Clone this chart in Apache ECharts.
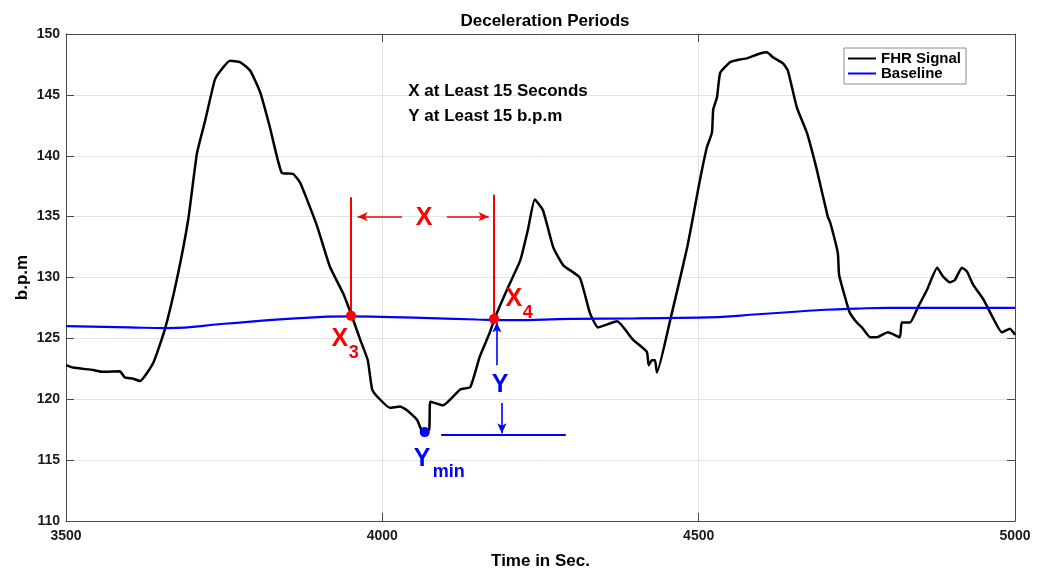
<!DOCTYPE html>
<html>
<head>
<meta charset="utf-8">
<title>Deceleration Periods</title>
<script src="https://cdn.jsdelivr.net/npm/echarts@6/dist/echarts.min.js"></script>
<style>
  html, body { margin: 0; padding: 0; background: #fff; }
  #chart { width: 1047px; height: 569px; }
</style>
</head>
<body>
<div id="chart"></div>
<script>
// Fetal heart rate trace (seconds, beats per minute)
const timeSec = [3500,3511,3543,3558,3585,3593,3605,3617,3638,3656,3675,3693,3707,3720,3735,3743,3759,3775,3791,3807,3822,3841,3859,3870,3881,3897,3917,3938,3952,3965,3977,3984,3996,4012,4028,4039,4055,4064,4074,4076,4096,4123,4139,4154,4170,4178,4197,4218,4230,4241,4254,4270,4286,4312,4328,4341,4371,4396,4418,4421,4426,4431,4434,4455,4482,4502,4513,4521,4523,4529,4534,4550,4565,4576,4597,4608,4617,4633,4641,4655,4671,4687,4704,4708,4720,4722,4734,4739,4750,4758,4771,4782,4799,4818,4821,4834,4847,4861,4877,4886,4897,4905,4916,4924,4934,4950,4965,4979,4992,5000];
const fhrBpm  = [122.8,122.6,122.4,122.25,122.3,121.8,121.7,121.5,123.0,125.7,129.8,134.7,140.2,142.9,146.2,146.9,147.8,147.7,147.0,145.2,142.4,138.6,138.5,137.8,136.4,134.2,130.9,128.7,126.8,124.9,123.2,120.8,120.0,119.3,119.4,119.1,118.3,117.3,117.5,119.8,119.5,120.8,121.0,123.5,125.5,126.7,129.0,131.4,133.9,136.4,135.5,132.5,131.0,130.0,127.1,125.9,126.4,124.9,123.9,122.8,123.2,123.2,122.2,126.5,132.5,138.0,140.7,141.9,143.8,144.8,146.8,147.7,147.9,148.0,148.4,148.5,148.1,147.6,147.0,144.0,141.9,138.8,135.0,134.5,132.0,130.2,127.9,127.1,126.3,125.9,125.1,125.1,125.5,125.1,126.3,126.3,127.6,129.0,130.8,130.1,129.6,129.8,130.8,130.5,129.4,128.2,126.7,125.5,125.8,125.3];

// Estimated baseline
const baseTime = [3500,3600,3660,3750,3850,3950,4050,4150,4200,4300,4400,4500,4600,4700,4750,4800,5000];
const baseBpm  = [126.0,125.9,125.85,126.2,126.6,126.8,126.7,126.55,126.5,126.6,126.65,126.7,127.0,127.35,127.45,127.5,127.5];

// Axis ticks
const xTicks = [3500, 4000, 4500, 5000];
const yTicks = [110, 115, 120, 125, 130, 135, 140, 145, 150];

// Deceleration markers: crossing points and minimum
const crossX3 = [3950.5, 126.85];
const crossX4 = [4176.5, 126.6];
const minPoint = [4067, 117.3];

// Marker guide lines [x1, y1, x2, y2]
const redVerticals = [[3950.5, 136.6, 3950.5, 126.85], [4176.5, 136.8, 4176.5, 126.6]];
const redArrows = [[4031, 135.0, 3961, 135.0], [4102, 135.0, 4168, 135.0]];
const blueArrows = [[4181, 122.8, 4181, 126.3], [4189, 119.7, 4189, 117.2]];
const minLine = [4093, 117.06, 4290, 117.06];

// Annotation texts [x, y, text]
const redTexts = [[4066, 134.9, 'X'], [3933, 124.95, 'X'], [4208, 128.2, 'X']];
const redSubs = [[3955, 123.8, '3'], [4230, 127.1, '4']];
const blueTexts = [[4186, 121.2, 'Y'], [4063, 115.1, 'Y']];
const blueSubs = [[4105, 114.0, 'min']];
const noteLines = [[4041, 145.3, 'X at Least 15 Seconds'], [4041, 143.25, 'Y at Least 15 b.p.m']];

const FONT = '"Liberation Sans", Arial, Helvetica, sans-serif';
const RED = '#ff0000';
const BLUE = '#0000ff';
const AXIS = '#4a4a4a';

const chart = echarts.init(document.getElementById('chart'), null, { renderer: 'canvas' });

function zip(xs, ys) { return xs.map((x, i) => [x, ys[i]]); }

function segs(list, color, width, arrow) {
  return list.map(s => [
    { coord: [s[0], s[1]], symbol: 'none', lineStyle: { color: color, width: width, type: 'solid', opacity: 1 } },
    { coord: [s[2], s[3]], symbol: arrow ? 'arrow' : 'none', symbolSize: arrow ? [7, 10] : 0 }
  ]);
}

function textSeries(list, color, size) {
  return {
    type: 'scatter', symbolSize: 0, silent: true, z: 10,
    itemStyle: { opacity: 1 },
    data: list.map(d => ({ value: [d[0], d[1]], name: d[2] })),
    label: {
      show: true, position: 'inside', formatter: p => p.name,
      color: color, fontSize: size, fontWeight: 'bold', fontFamily: FONT
    }
  };
}

const option = {
  animation: false,
  backgroundColor: '#ffffff',
  title: {
    text: 'Deceleration Periods',
    left: 540, top: 8, textAlign: 'center',
    textStyle: { fontFamily: FONT, fontSize: 17, fontWeight: 'bold', color: '#000' }
  },
  legend: {
    data: ['FHR Signal', 'Baseline'],
    orient: 'vertical',
    left: 844, top: 48,
    padding: [3, 5, 3, 4],
    itemGap: 0,
    itemWidth: 28, itemHeight: 2,
    icon: 'rect',
    borderColor: '#8a8a8a', borderWidth: 1,
    backgroundColor: '#fff',
    textStyle: { fontFamily: FONT, fontSize: 15, fontWeight: 'bold', color: '#000', lineHeight: 13 }
  },
  grid: { left: 66, right: 32, top: 34, bottom: 48, containLabel: false, outerBoundsMode: 'none' },
  xAxis: [{
    type: 'value', min: 3500, max: 5000, interval: 500,
    name: 'Time in Sec.', nameLocation: 'middle', nameGap: 32,
    nameTextStyle: { fontFamily: FONT, fontSize: 17, fontWeight: 'bold', color: '#000' },
    axisLine: { show: true, onZero: false, lineStyle: { color: AXIS, width: 1 } },
    axisTick: { show: true, inside: true, length: 8, lineStyle: { color: AXIS } },
    axisLabel: {
      margin: 8, fontFamily: FONT, fontSize: 14, fontWeight: 'bold', color: '#1a1a1a',
      formatter: v => xTicks.includes(v) ? String(v) : ''
    },
    splitLine: { show: true, lineStyle: { color: '#e3e3e3', width: 1 } }
  }, {
    type: 'value', min: 3500, max: 5000, interval: 500, position: 'top',
    axisLine: { show: true, onZero: false, lineStyle: { color: AXIS, width: 1 } },
    axisTick: { show: true, inside: true, length: 8, lineStyle: { color: AXIS } },
    axisLabel: { show: false }, splitLine: { show: false }
  }],
  yAxis: [{
    type: 'value', min: 110, max: 150, interval: 5,
    name: 'b.p.m', nameLocation: 'middle', nameGap: 35, nameRotate: 90, nameMoveOverlap: false,
    nameTextStyle: { fontFamily: FONT, fontSize: 17, fontWeight: 'bold', color: '#000' },
    axisLine: { show: true, onZero: false, lineStyle: { color: AXIS, width: 1 } },
    axisTick: { show: true, inside: true, length: 8, lineStyle: { color: AXIS } },
    axisLabel: {
      margin: 6, fontFamily: FONT, fontSize: 14, fontWeight: 'bold', color: '#1a1a1a',
      formatter: v => yTicks.includes(v) ? String(v) : ''
    },
    splitLine: { show: true, lineStyle: { color: '#e3e3e3', width: 1 } }
  }, {
    type: 'value', min: 110, max: 150, interval: 5, position: 'right',
    axisLine: { show: true, onZero: false, lineStyle: { color: AXIS, width: 1 } },
    axisTick: { show: true, inside: true, length: 8, lineStyle: { color: AXIS } },
    axisLabel: { show: false }, splitLine: { show: false }
  }],
  series: [
    {
      name: 'FHR Signal', type: 'line', data: zip(timeSec, fhrBpm),
      showSymbol: false, smooth: 0.15,
      lineStyle: { color: '#000', width: 2.5 }, itemStyle: { color: '#000' }, z: 3
    },
    {
      name: 'Baseline', type: 'line', data: zip(baseTime, baseBpm),
      showSymbol: false, smooth: true,
      lineStyle: { color: BLUE, width: 2.2 }, itemStyle: { color: BLUE }, z: 4
    },
    {
      name: 'guides', type: 'line', data: [], silent: true, z: 5,
      markLine: {
        silent: true, animation: false,
        symbol: ['none', 'arrow'],
        symbolSize: 10,
        label: { show: false },
        emphasis: { disabled: true },
        data: [].concat(
          segs(redVerticals, RED, 2, false),
          segs(redArrows, RED, 1.6, true),
          segs(blueArrows, BLUE, 1.6, true),
          segs([minLine], BLUE, 2, false)
        )
      }
    },
    {
      name: 'crossings', type: 'scatter', symbol: 'circle', symbolSize: 10, silent: true, z: 8,
      data: [crossX3, crossX4], itemStyle: { color: RED, opacity: 1 }
    },
    {
      name: 'minimum', type: 'scatter', symbol: 'circle', symbolSize: 10, silent: true, z: 8,
      data: [minPoint], itemStyle: { color: BLUE, opacity: 1 }
    },
    textSeries(redTexts, RED, 25),
    textSeries(redSubs, RED, 18),
    textSeries(blueTexts, BLUE, 25),
    textSeries(blueSubs, BLUE, 18),
    {
      type: 'scatter', symbolSize: 0, silent: true, z: 10,
      itemStyle: { opacity: 1 },
      data: noteLines.map(d => ({ value: [d[0], d[1]], name: d[2] })),
      label: {
        show: true, position: 'inside', align: 'left', formatter: p => p.name,
        color: '#000', fontSize: 17, fontWeight: 'bold', fontFamily: FONT
      }
    }
  ]
};

chart.setOption(option);
</script>
</body>
</html>
